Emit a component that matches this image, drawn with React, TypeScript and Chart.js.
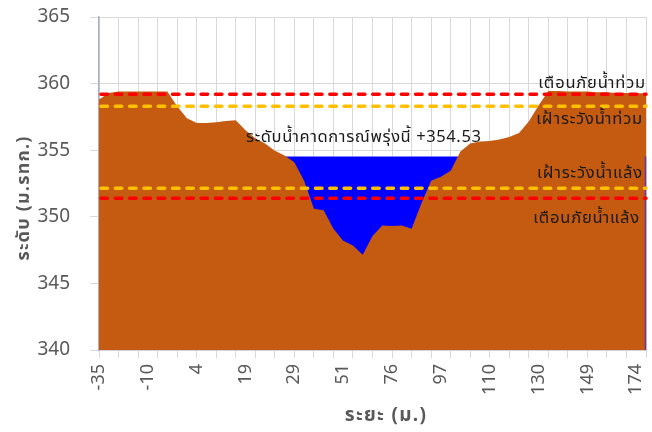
import React, { useEffect, useRef } from "react";
import { Chart, registerables } from "chart.js";

Chart.register(...registerables);

// Distance (m) of each surveyed point
const distances: number[] = [
  -35, -30, -25, -20, -15, -10, -7, -4, -1, 2, 4, 7, 10, 13, 16, 19, 21, 23, 25, 27,
  29, 33, 38, 42, 47, 51, 56, 61, 66, 71, 76, 80, 84, 89, 93, 97, 100, 102, 105, 107,
  110, 114, 118, 122, 126, 130, 134, 138, 141, 145, 149, 154, 159, 164, 169, 174, 179,
];

// Ground elevation (m. MSL)
const ground: number[] = [
  358.8, 359.3, 359.4, 359.4, 359.4, 359.4, 359.4, 359.4, 358.3, 357.4,
  357.05, 357.05, 357.1, 357.2, 357.25, 356.5, 355.9, 355.5, 354.95, 354.6,
  354.1, 352.7, 350.6, 350.5, 349.1, 348.2, 347.85, 347.15, 348.55, 349.35,
  349.3, 349.35, 349.1, 351.0, 352.7, 353.0, 353.45, 354.9, 355.5, 355.65,
  355.7, 355.8, 356.0, 356.3, 357.15, 358.35, 359.45, 359.45, 359.4, 359.4,
  359.4, 359.35, 359.35, 359.3, 359.3, 359.3, 359.25,
];

// Forecast water level and extent (indices of the channel)
const waterLevel = 354.53;
const waterFrom = 19;
const waterTo = 37;
const waterLabelIndex = 27;

// Threshold levels
const floodWarn = 359.2;
const floodWatch = 358.3;
const droughtWatch = 352.15;
const droughtWarn = 351.4;

const yTicks = [340, 345, 350, 355, 360, 365];

const THAI = "Tahoma, 'Noto Sans Thai', 'Leelawadee UI', 'Noto Sans', 'DejaVu Sans', sans-serif";

const water: (number | null)[] = distances.map((_, i) =>
  i >= waterFrom && i <= waterTo ? waterLevel : null
);

const overlay = {
  id: "overlay",
  afterDatasetsDraw(chart: any) {
    const { ctx, chartArea, scales } = chart;
    const x = scales.x;
    const y = scales.y;
    const lines: [number, string][] = [
      [floodWarn, "#FF0000"],
      [floodWatch, "#FFC000"],
      [droughtWatch, "#FFC000"],
      [droughtWarn, "#FF0000"],
    ];
    ctx.save();
    // thin edge line at the right end of the section
    ctx.beginPath();
    ctx.strokeStyle = "#7030A0";
    ctx.lineWidth = 1.5;
    ctx.moveTo(chartArea.right - 0.5, y.getPixelForValue(waterLevel));
    ctx.lineTo(chartArea.right - 0.5, chartArea.bottom);
    ctx.stroke();
    for (const [v, c] of lines) {
      const py = y.getPixelForValue(v);
      ctx.beginPath();
      ctx.strokeStyle = c;
      ctx.lineWidth = 3.5;
      ctx.lineCap = "round";
      ctx.setLineDash([6.5, 7.8]);
      ctx.moveTo(chartArea.left + 2, py);
      ctx.lineTo(chartArea.right, py);
      ctx.stroke();
    }
    ctx.setLineDash([]);
    ctx.fillStyle = "#1a1a1a";
    ctx.font = `16.5px ${THAI}`;
    (ctx as any).letterSpacing = "0.8px";
    ctx.textAlign = "right";
    ctx.textBaseline = "alphabetic";
    const rx = chartArea.right;
    ctx.fillText("เตือนภัยน้ำท่วม", rx, y.getPixelForValue(floodWarn) - 6);
    ctx.fillText("เฝ้าระวังน้ำท่วม", rx - 3, y.getPixelForValue(floodWatch) + 18);
    ctx.fillText("เฝ้าระวังน้ำแล้ง", rx - 3, y.getPixelForValue(droughtWatch) - 10);
    ctx.fillText("เตือนภัยน้ำแล้ง", rx - 6, y.getPixelForValue(droughtWarn) + 25);
    ctx.textAlign = "center";
    (ctx as any).letterSpacing = "0.6px";
    ctx.fillText(
      "ระดับน้ำคาดการณ์พรุ่งนี้ +" + waterLevel.toFixed(2),
      x.getPixelForValue(waterLabelIndex) + 1,
      y.getPixelForValue(waterLevel) - 14
    );
    ctx.restore();
  },
  afterDraw(chart: any) {
    const { ctx } = chart;
    ctx.save();
    ctx.fillStyle = "#595959";
    ctx.font = `bold 19px ${THAI}`;
    ctx.textAlign = "center";
    ctx.textBaseline = "middle";
    (ctx as any).letterSpacing = "1.3px";
    ctx.fillText("ระยะ (ม.)", 386, 417);
    (ctx as any).letterSpacing = "1.2px";
    ctx.font = `bold 18px ${THAI}`;
    ctx.translate(25, 198);
    ctx.rotate(-Math.PI / 2);
    ctx.fillText("ระดับ (ม.รทก.)", 0, 0);
    ctx.restore();
  },
};

export default function App() {
  const ref = useRef<HTMLCanvasElement>(null);
  useEffect(() => {
    document.body.style.margin = "0";
    const chart = new Chart(ref.current as HTMLCanvasElement, {
      type: "line",
      data: {
        labels: distances.map(String),
        datasets: [
          {
            label: "ground",
            data: ground,
            borderWidth: 0,
            borderColor: "#C55A11",
            backgroundColor: "#C55A11",
            fill: "start",
            pointRadius: 0,
            tension: 0,
          },
          {
            label: "water",
            data: water,
            borderWidth: 0,
            borderColor: "#0000FF",
            backgroundColor: "#0000FF",
            fill: "start",
            pointRadius: 0,
            spanGaps: false,
          },
        ],
      },
      options: {
        animation: false,
        responsive: true,
        maintainAspectRatio: false,
        layout: { padding: { top: 17, right: 6, left: 0, bottom: 0 } },
        plugins: { legend: { display: false }, tooltip: { enabled: false }, title: { display: false } },
        scales: {
          x: {
            type: "category",
            offset: false,
            grid: {
              color: (c: any) => (c.index % 2 === 0 ? "#D9D9D9" : "rgba(0,0,0,0)"),
              tickLength: 8,
              drawTicks: true,
            },
            border: { color: "#C9C7DA", width: 1.5 },
            ticks: {
              autoSkip: false,
              maxRotation: 90,
              minRotation: 90,
              padding: 6,
              color: "#595959",
              font: { family: "'Noto Sans', sans-serif", size: 18 },
              callback: (_v: any, i: number) => (i % 5 === 0 ? distances[i] : ""),
            },
            afterFit: (s: any) => {
              s.height = 82;
              s.paddingLeft = 0;
              s.paddingRight = 0;
            },
          },
          y: {
            min: 340,
            max: 365,
            afterBuildTicks: (s: any) => {
              s.ticks = yTicks.map((v) => ({ value: v }));
            },
            grid: { color: "#D9D9D9", tickLength: 9, drawTicks: true },
            border: { color: "#A9AFC0", width: 1.5 },
            ticks: {
              padding: 20,
              color: "#595959",
              font: { family: "'Noto Sans', sans-serif", size: 19 },
            },
            afterFit: (s: any) => {
              s.width = 99;
              s.paddingTop = 0;
              s.paddingBottom = 0;
            },
          },
        },
      },
      plugins: [overlay],
    });
    return () => chart.destroy();
  }, []);
  return (
    <div style={{ width: 652, height: 432, position: "relative" }}>
      <canvas ref={ref} />
    </div>
  );
}
